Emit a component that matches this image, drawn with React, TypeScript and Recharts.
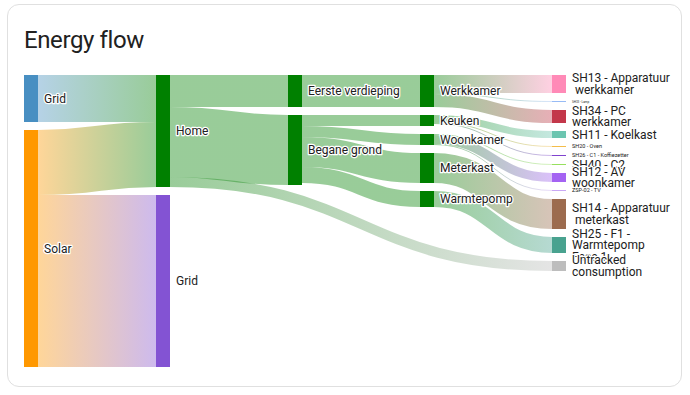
import React from 'react';
import { Sankey } from 'recharts';

// ---- data ----
const nodeNames = [
  'Grid',
  'Solar',
  'Home',
  'Grid',
  'Eerste verdieping',
  'Begane grond',
  '',
  'Werkkamer',
  'Keuken',
  'Woonkamer',
  'Meterkast',
  'Warmtepomp',
  '',
  'SH13 - Apparatuur\n werkkamer',
  'SH33 - Lamp',
  'SH34 - PC\nwerkkamer',
  'SH11 - Koelkast',
  'SH20 - Oven',
  'SH26 - C1 - Koffiezetter',
  'SH40 - C2',
  'SH12 - AV\nwoonkamer',
  'ZSP-02 - TV',
  'SH14 - Apparatuur\n meterkast',
  'SH25 - F1 -\nWarmtepomp\nFase 1',
  'Untracked\nconsumption',
];

const nodeColors = [
  '#488fc2',
  '#ff9800',
  '#008000',
  '#8353d3',
  '#008000',
  '#008000',
  '#6fa86f',
  '#008000',
  '#008000',
  '#008000',
  '#008000',
  '#008000',
  '#9fb89f',
  '#ff8ab7',
  '#97bbf5',
  '#c3374a',
  '#6cc5b0',
  '#f4bd4a',
  '#8043ce',
  '#97e05e',
  '#a463f2',
  '#c9a8f5',
  '#9c6b4e',
  '#49a28f',
  '#bdbdbd',
];

const hiddenNodes = [6, 12];

const linkSources = [0, 1, 1, 2, 2, 2, 4, 5, 5, 5, 5, 6, 7, 7, 7, 8, 8, 8, 9, 9, 9, 10, 11, 12];
const linkTargets = [2, 2, 3, 4, 5, 6, 7, 8, 9, 10, 11, 12, 13, 14, 15, 16, 17, 18, 19, 20, 21, 22, 23, 24];
const linkValues = [4.7, 6.5, 17.2, 3.2, 7.0, 1.0, 3.2, 1.1, 1.1, 3.0, 1.6, 1.0, 1.8, 0.1, 1.3, 0.7, 0.1, 0.1, 0.1, 0.9, 0.1, 3.0, 1.6, 1.0];

const tinyLabels: Record<string, number> = {
  'SH33 - Lamp': 3,
  'SH20 - Oven': 5.5,
  'SH26 - C1 - Koffiezetter': 5.5,
  'ZSP-02 - TV': 5.5,
};

const sankeyData = {
  nodes: nodeNames.map((name) => ({ name })),
  links: linkSources.map((s, i) => ({ source: s, target: linkTargets[i], value: linkValues[i] })),
};

const passStart: { x: number; y: number; color: string } = { x: 0, y: 0, color: '#008000' };

function renderLink(props: any) {
  const { sourceX, targetX, sourceY, targetY, sourceControlX, targetControlX, linkWidth, index } = props;
  const s = linkSources[index];
  const t = linkTargets[index];
  const sHidden = hiddenNodes.includes(s);
  const tHidden = hiddenNodes.includes(t);
  if (tHidden && !sHidden) {
    passStart.x = sourceX;
    passStart.y = sourceY;
    passStart.color = nodeColors[s];
    return <g />;
  }
  if (tHidden) return <g />;
  let x0 = sourceX;
  let y0 = sourceY;
  let c0 = nodeColors[s];
  let cx0 = sourceControlX;
  let cx1 = targetControlX;
  if (sHidden) {
    x0 = passStart.x;
    y0 = passStart.y;
    c0 = passStart.color;
    const mid = (x0 + targetX) / 2;
    cx0 = mid;
    cx1 = mid;
  }
  const id = `lg${index}`;
  return (
    <g>
      <defs>
        <linearGradient id={id} gradientUnits="userSpaceOnUse" x1={x0} y1={0} x2={targetX} y2={0}>
          <stop offset="0%" stopColor={c0} />
          <stop offset="100%" stopColor={nodeColors[t]} />
        </linearGradient>
      </defs>
      <path
        d={`M${x0},${y0}C${cx0},${y0} ${cx1},${targetY} ${targetX},${targetY}`}
        fill="none"
        stroke={`url(#${id})`}
        strokeWidth={Math.max(linkWidth, 1)}
        strokeOpacity={0.4}
      />
    </g>
  );
}

function renderNode(props: any) {
  const { x, y, width, height, index } = props;
  if (hiddenNodes.includes(index)) return <g />;
  const name = nodeNames[index];
  const lines = name.split('\n');
  const fs = tinyLabels[name] ?? 12;
  const lh = fs < 12 ? fs : 11.5;
  const cy = y + height / 2;
  const tx = x + width + 6;
  return (
    <g>
      <rect x={x} y={y} width={width} height={Math.max(height, 0.8)} fill={nodeColors[index]} />
      <text
        x={tx}
        y={cy - ((lines.length - 1) * lh) / 2}
        fontSize={fs}
        fontFamily="Roboto, sans-serif"
        fill="#212121"
        stroke="#ffffff"
        strokeWidth={fs < 12 ? 1 : 2.5}
        strokeLinejoin="round"
        paintOrder="stroke"
        style={{ whiteSpace: 'pre' }}
      >
        {lines.map((l, i) => (
          <tspan key={i} x={tx} dy={i === 0 ? '0.35em' : lh}>
            {l}
          </tspan>
        ))}
      </text>
    </g>
  );
}

export default function App() {
  return (
    <div style={{ position: 'absolute', left: 0, top: 0, width: 690, height: 395 }}>
      <div
        style={{
          position: 'absolute',
          left: 7,
          top: 4,
          width: 675,
          height: 383,
          boxSizing: 'border-box',
          border: '1px solid #e0e0e0',
          borderRadius: 12,
          background: '#fff',
        }}
      />
      <div
        style={{
          position: 'absolute',
          left: 24,
          top: 28,
          fontFamily: 'Roboto, sans-serif',
          fontSize: 24,
          lineHeight: '24px',
          letterSpacing: '-0.4px',
          color: '#212121',
          whiteSpace: 'nowrap',
        }}
      >
        Energy flow
      </div>
      <div style={{ position: 'absolute', left: 0, top: 0 }}>
        <Sankey
          width={690}
          height={395}
          data={sankeyData}
          nodeWidth={14}
          nodePadding={8}
          iterations={0}
          sort={false}
          align="left"
          verticalAlign="top"
          margin={{ top: 75, left: 24, right: 124, bottom: 28 }}
          node={renderNode}
          link={renderLink}
        />
      </div>
    </div>
  );
}
